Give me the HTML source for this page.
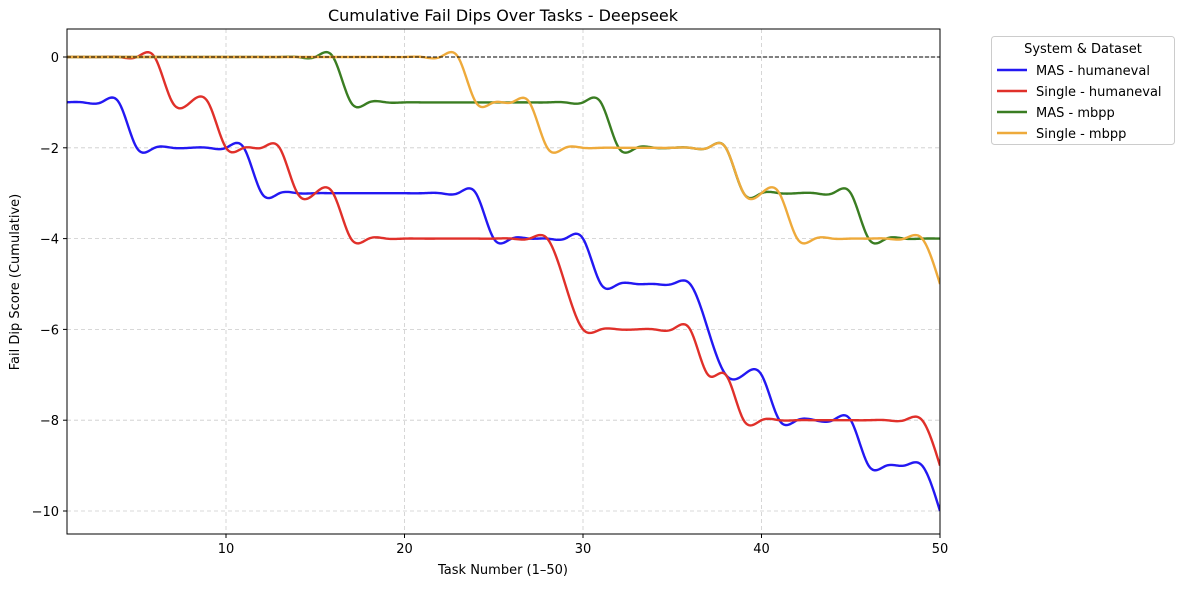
<!DOCTYPE html>
<html><head><meta charset="utf-8"><style>
body{margin:0;background:#fff;width:1180px;height:584px;overflow:hidden}
svg text{font-family:"DejaVu Sans","Liberation Sans",sans-serif;fill:#000}
</style></head><body>
<svg id="c" width="1180" height="584" xmlns="http://www.w3.org/2000/svg">
<defs><clipPath id="pc"><rect x="67" y="29" width="873" height="505"/></clipPath></defs>
<text x="503" y="21" font-size="16" text-anchor="middle">Cumulative Fail Dips Over Tasks - Deepseek</text>
<text x="503" y="574" font-size="13" text-anchor="middle">Task Number (1–50)</text>
<text transform="translate(19,282) rotate(-90)" font-size="13" text-anchor="middle">Fail Dip Score (Cumulative)</text>
<g id="grid"></g>
<g id="series" clip-path="url(#pc)"></g>
<rect x="67" y="29" width="873" height="505" fill="none" stroke="#000" stroke-width="1"/>
<g id="ticks"></g>
<g>
<rect x="991.5" y="36.5" width="183" height="108" rx="3" fill="#fff" stroke="#ccc"/>
<text x="1083" y="53" font-size="13" text-anchor="middle">System &amp; Dataset</text>
<g id="leg"></g>
</g>
</svg>
<script>
const tasks = Array.from({length:50},(_, i)=>i+1);
const masHumaneval = [-1,-1,-1,-1,-2,-2,-2,-2,-2,-2,-2,-3,-3,-3,-3,-3,-3,-3,-3,-3,-3,-3,-3,-3,-4,-4,-4,-4,-4,-4,-5,-5,-5,-5,-5,-5,-6,-7,-7,-7,-8,-8,-8,-8,-8,-9,-9,-9,-9,-10];
const singleHumaneval = [0,0,0,0,0,0,-1,-1,-1,-2,-2,-2,-2,-3,-3,-3,-4,-4,-4,-4,-4,-4,-4,-4,-4,-4,-4,-4,-5,-6,-6,-6,-6,-6,-6,-6,-7,-7,-8,-8,-8,-8,-8,-8,-8,-8,-8,-8,-8,-9];
const masMbpp = [0,0,0,0,0,0,0,0,0,0,0,0,0,0,0,0,-1,-1,-1,-1,-1,-1,-1,-1,-1,-1,-1,-1,-1,-1,-1,-2,-2,-2,-2,-2,-2,-2,-3,-3,-3,-3,-3,-3,-3,-4,-4,-4,-4,-4];
const singleMbpp = [0,0,0,0,0,0,0,0,0,0,0,0,0,0,0,0,0,0,0,0,0,0,0,-1,-1,-1,-1,-2,-2,-2,-2,-2,-2,-2,-2,-2,-2,-2,-3,-3,-3,-4,-4,-4,-4,-4,-4,-4,-4,-5];
const xTicks = [10,20,30,40,50];
const yTicks = [0,-2,-4,-6,-8,-10];
const seriesNames = ["MAS - humaneval","Single - humaneval","MAS - mbpp","Single - mbpp"];
const seriesColors = ["#2318f2","#e0302a","#3a7d22","#eeaa3b"];
const seriesData = [masHumaneval,singleHumaneval,masMbpp,singleMbpp];

const X = v => 226 + (v-10)*17.85;
const Y = v => 57 - v*45.4;
const NS = "http://www.w3.org/2000/svg";
function mk(tag, attrs, parent){const e=document.createElementNS(NS,tag);for(const k in attrs)e.setAttribute(k,attrs[k]);parent.appendChild(e);return e;}

function spline(xs, ys){
  const n=xs.length, h=[], al=[0], l=[1], mu=[0], z=[0], c=new Array(n).fill(0), b=[], d=[];
  for(let i=0;i<n-1;i++)h.push(xs[i+1]-xs[i]);
  for(let i=1;i<n-1;i++)al.push(3/h[i]*(ys[i+1]-ys[i])-3/h[i-1]*(ys[i]-ys[i-1]));
  for(let i=1;i<n-1;i++){l[i]=2*(xs[i+1]-xs[i-1])-h[i-1]*mu[i-1];mu[i]=h[i]/l[i];z[i]=(al[i]-h[i-1]*z[i-1])/l[i];}
  for(let j=n-2;j>=0;j--){c[j]=z[j]-mu[j]*c[j+1];b[j]=(ys[j+1]-ys[j])/h[j]-h[j]*(c[j+1]+2*c[j])/3;d[j]=(c[j+1]-c[j])/(3*h[j]);}
  return t=>{let i=Math.min(n-2,Math.max(0,Math.floor(t-xs[0])));const dx=t-xs[i];return ys[i]+b[i]*dx+c[i]*dx*dx+d[i]*dx*dx*dx;};
}

const grid=document.getElementById('grid'), ticks=document.getElementById('ticks');
xTicks.forEach(v=>{
  const l=mk('line',{x1:X(v),x2:X(v),y1:29,y2:534,stroke:'#ccc','stroke-dasharray':'4,3','stroke-width':0.8},grid);
  
  
  mk('line',{x1:X(v),x2:X(v),y1:534,y2:538,stroke:'#000'},ticks);
  const t=mk('text',{x:X(v),y:553,'font-size':13,'text-anchor':'middle'},ticks);t.textContent=v;
  
  
});
yTicks.forEach(v=>{
  const l=mk('line',{x1:67,x2:940,y1:Y(v),y2:Y(v),stroke:'#ccc','stroke-dasharray':'4,3','stroke-width':0.8},grid);
  
  
  mk('line',{x1:63,x2:67,y1:Y(v),y2:Y(v),stroke:'#000'},ticks);
  const t=mk('text',{x:59,y:Y(v)+5,'font-size':13,'text-anchor':'end'},ticks);t.textContent=(v<0?'−'+(-v):v);
  
  
});
const ser=document.getElementById('series');
seriesData.forEach((ys,k)=>{
  const f=spline(tasks,ys);let d='';
  for(let i=0;i<=600;i++){const t=1+49*i/600;d+=(i?'L':'M')+X(t).toFixed(2)+','+Y(f(t)).toFixed(2);}
  const p=mk('path',{d:d,fill:'none',stroke:seriesColors[k],'stroke-width':2.4},ser);
  
  
});
const zl=mk('line',{x1:67,x2:940,y1:Y(0),y2:Y(0),stroke:'#000','stroke-dasharray':'4,2','stroke-width':1},ser);


const leg=document.getElementById('leg');
seriesNames.forEach((n,k)=>{
  const y=70+k*21;
  const g=mk('g',{},leg);
  
  
  mk('line',{x1:997,x2:1027,y1:y,y2:y,stroke:seriesColors[k],'stroke-width':2.4},g);
  const t=mk('text',{x:1036,y:y+5,'font-size':13},g);t.textContent=n;
});
</script>
</body></html>
